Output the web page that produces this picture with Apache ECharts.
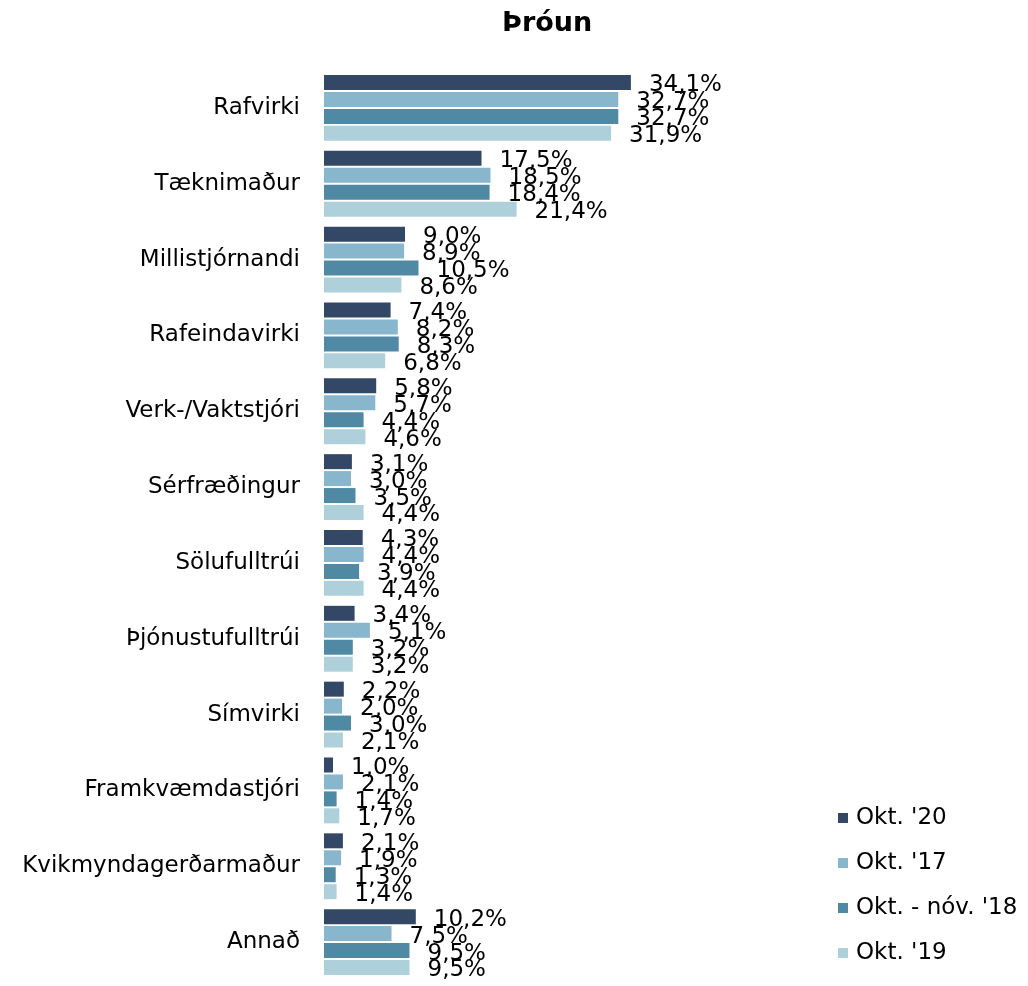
<!DOCTYPE html>
<html>
<head>
<meta charset="utf-8">
<script src="https://cdn.jsdelivr.net/npm/echarts@6/dist/echarts.min.js"></script>
<style>html,body{margin:0;padding:0;background:#fff}#c{width:1028px;height:986px}</style>
</head>
<body>
<div id="c"></div>
<script>
const categories = ["Rafvirki","Tæknimaður","Millistjórnandi","Rafeindavirki","Verk-/Vaktstjóri","Sérfræðingur","Sölufulltrúi","Þjónustufulltrúi","Símvirki","Framkvæmdastjóri","Kvikmyndagerðarmaður","Annað"];
const seriesNames = ["Okt. '20","Okt. '17","Okt. - nóv. '18","Okt. '19"];
const okt20 = [34.1,17.5,9.0,7.4,5.8,3.1,4.3,3.4,2.2,1.0,2.1,10.2];
const okt17 = [32.7,18.5,8.9,8.2,5.7,3.0,4.4,5.1,2.0,2.1,1.9,7.5];
const okt18 = [32.7,18.4,10.5,8.3,4.4,3.5,3.9,3.2,3.0,1.4,1.3,9.5];
const okt19 = [31.9,21.4,8.6,6.8,4.6,4.4,4.4,3.2,2.1,1.7,1.4,9.5];
const colors = ["#334766","#87B6CD","#4F89A3","#ADD0DA"];
const FONT = "DejaVu Sans";

const allData = [okt20, okt17, okt18, okt19];
const chart = echarts.init(document.getElementById('c'), null, {renderer:'canvas'});
chart.setOption({
  animation: false,
  backgroundColor: '#fff',
  title: {
    text: 'Þróun', left: 497, top: 5,
    textStyle: {fontFamily: FONT, fontWeight: 'bold', fontSize: 27, color: '#000'}
  },
  legend: {
    orient: 'vertical', left: 833, top: 801,
    itemWidth: 10, itemHeight: 10, itemGap: 21,
    icon: 'rect',
    textStyle: {fontFamily: FONT, fontSize: 23, color: '#000', lineHeight: 24, padding:[0,0,0,3]},
    data: seriesNames
  },
  grid: {left: 324, top: 70, height: 910, width: 360, containLabel: false},
  xAxis: {type: 'value', min: 0, max: 40, show: false},
  yAxis: {
    type: 'category', data: categories, inverse: true,
    axisLine: {show: false}, axisTick: {show: false},
    axisLabel: {fontFamily: FONT, fontSize: 23, color: '#000', margin: 24, align: 'right'}
  },
  series: seriesNames.map((n, i) => ({
    name: n, type: 'bar', data: allData[i],
    barWidth: 15, barGap: '13%',
    itemStyle: {color: colors[i]},
    label: {
      show: true, position: 'right', distance: 18, offset: [0, 3],
      fontFamily: FONT, fontSize: 23, color: '#000',
      formatter: p => p.value.toFixed(1).replace('.', ',') + '%'
    }
  }))
});
</script>
</body>
</html>
